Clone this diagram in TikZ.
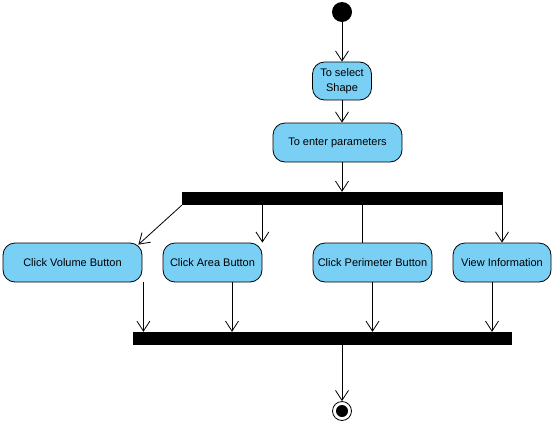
\documentclass[tikz,border=0pt]{standalone}
\usepackage{fontspec}
\setmainfont{Liberation Sans}
\usetikzlibrary{arrows.meta}
\definecolor{bleuact}{RGB}{122,207,245}
\tikzset{
  activite/.style={draw, fill=bleuact, line width=0.8pt, rounded corners=12pt,
    minimum height=39pt, inner sep=0pt, align=center,
    font=\fontsize{11pt}{14.5pt}\selectfont},
  barre/.style={fill=black, inner sep=0pt, minimum height=13pt},
  fleche/.style={line width=0.8pt, -{Straight Barb[length=10pt,width=13pt,line width=0.8pt]}},
  trait/.style={line width=0.8pt}
}
\begin{document}
\begin{tikzpicture}[x=1pt,y=-1pt]
\useasboundingbox (0,0) rectangle (556,426);
% Le point de départ, en haut
\node[circle, fill=black, minimum size=20pt, inner sep=0pt] (depart) at (342,12) {};
% Les deux premières actions
\node[activite, minimum width=59pt, minimum height=38pt] (choix) at (342,81) {To select\\Shape};
\node[activite, minimum width=129pt] (params) at (337.5,142.5) {To enter parameters};
% La barre de séparation et la barre de jonction
\node[barre, minimum width=321pt] (fourche) at (342.5,198.5) {};
\node[barre, minimum width=379pt] (jonction) at (322.5,338.5) {};
% Les quatre actions en parallèle
\node[activite, minimum width=139pt] (volume) at (72.5,262.5) {Click Volume Button};
\node[activite, minimum width=99pt] (aire) at (212.5,262.5) {Click Area Button};
\node[activite, minimum width=119pt] (perimetre) at (372.5,262.5) {Click Perimeter Button};
\node[activite, minimum width=98pt] (info) at (502,262.5) {View Information};
% Le point final : un disque dans un cercle
\node[circle, draw, line width=0.8pt, minimum size=19pt, inner sep=0pt] (fin) at (342,411) {};
\fill (fin) circle (6pt);

\draw[fleche] (depart) -- (choix);
\draw[fleche] (choix) -- (choix |- params.north);
\draw[fleche] (choix |- params.south) -- (choix |- fourche.north);
% Les branches de la fourche
\draw[fleche] (fourche.south west) -- ([shift={(-4pt,-2pt)}]volume.north east);
\draw[fleche] (fourche.south -| aire.east) -- (aire.north east);
\coordinate (f3) at (362,205);
\draw[trait] (f3) -- (f3 |- perimetre.north);
\draw[fleche] (fourche.south -| info.north) -- (info.north);
% Vers la jonction
\draw[fleche] ([xshift=1pt]volume.south east) -- ([xshift=1pt]volume.south east |- jonction.north);
\draw[fleche] ([xshift=19.5pt]aire.south) -- ([xshift=19.5pt]aire.south |- jonction.north);
\draw[fleche] (perimetre.south) -- (perimetre.south |- jonction.north);
\draw[fleche] ([xshift=-10pt]info.south) -- ([xshift=-10pt]info.south |- jonction.north);
\draw[fleche] (fin |- jonction.south) -- (fin);
\end{tikzpicture}
\end{document}
